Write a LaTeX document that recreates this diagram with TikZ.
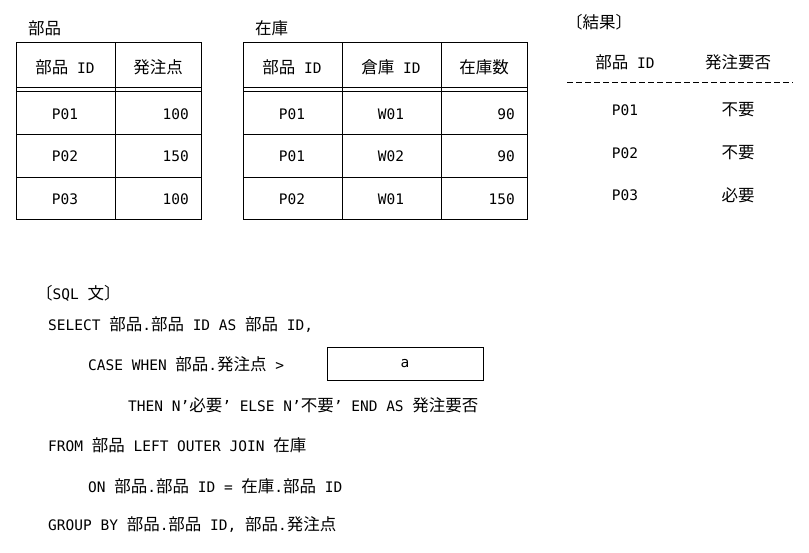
\documentclass[tikz,border=0pt]{standalone}
\usepackage{fontspec}
\setmainfont{DejaVu Sans Mono}
\newfontfamily\cjk{Noto Sans CJK JP}
\newcommand{\J}[1]{{\cjk\fontsize{16.5}{18}\selectfont #1}}
\begin{document}
\begin{tikzpicture}[x=1pt,y=-1pt,font=\fontsize{14.5}{17}\selectfont,
  t/.style={inner sep=0pt,anchor=west},
  c/.style={inner sep=0pt},
  r/.style={inner sep=0pt,anchor=east},
  tb/.style={line width=1pt}]
\useasboundingbox (0,0) rectangle (809,552);
% table 1
\node[t] (t1) at (28,28) {\J{部品}};
\draw[tb] (16,42) rectangle (201,219);
\draw[tb] (115,42) -- (115,219);
\draw[tb] (16,87) -- (201,87); \draw[tb] (16,91) -- (201,91);
\draw[tb] (16,134) -- (201,134); \draw[tb] (16,177) -- (201,177);
\node[c] (h11) at (65,67) {\J{部品} ID};
\node[c] (h12) at (158,67) {\J{発注点}};
\node[c] (a1) at (65,114) {P01}; \node[r] (b1) at (189,114) {100};
\node[c] (a2) at (65,156) {P02}; \node[r] (b2) at (189,156) {150};
\node[c] (a3) at (65,199) {P03}; \node[r] (b3) at (189,199) {100};
% table 2
\node[t] (t2) at (255,28) {\J{在庫}};
\draw[tb] (243,42) rectangle (527,219);
\draw[tb] (342,42) -- (342,219); \draw[tb] (441,42) -- (441,219);
\draw[tb] (243,87) -- (527,87); \draw[tb] (243,91) -- (527,91);
\draw[tb] (243,134) -- (527,134); \draw[tb] (243,177) -- (527,177);
\node[c] (h21) at (292,67) {\J{部品} ID};
\node[c] (h22) at (391,67) {\J{倉庫} ID};
\node[c] (h23) at (484,67) {\J{在庫数}};
\node[c] (c1) at (292,114) {P01}; \node[c] (d1) at (391,114) {W01}; \node[r] (e1) at (515,114) {90};
\node[c] (c2) at (292,156) {P01}; \node[c] (d2) at (391,156) {W02}; \node[r] (e2) at (515,156) {90};
\node[c] (c3) at (292,199) {P02}; \node[c] (d3) at (391,199) {W01}; \node[r] (e3) at (515,199) {150};
% result
\node[t] (t3) at (566,22) {\J{〔結果〕}};
\node[c] (h31) at (625,62) {\J{部品} ID};
\node[c] (h32) at (738,62) {\J{発注要否}};
\draw[line width=1pt,dash pattern=on 6pt off 3pt] (567,82) -- (793,82);
\node[c] (f1) at (625,110) {P01}; \node[c] (g1) at (738,110) {\J{不要}};
\node[c] (f2) at (625,153) {P02}; \node[c] (g2) at (738,153) {\J{不要}};
\node[c] (f3) at (625,195) {P03}; \node[c] (g3) at (738,195) {\J{必要}};
% SQL
\node[t] (s0) at (36,293) {\J{〔}SQL \J{文〕}};
\node[t] (s1) at (48,325) {SELECT \J{部品}.\J{部品} ID AS \J{部品} ID,};
\node[t] (s2) at (88,364) {CASE WHEN \J{部品}.\J{発注点} >};
\draw[tb] (327,347) rectangle (483,380);
\node[c] (a) at (405,364) {a};
\node[t] (s3) at (128,405) {THEN N'\J{必要}' ELSE N'\J{不要}' END AS \J{発注要否}};
\node[t] (s4) at (48,445) {FROM \J{部品} LEFT OUTER JOIN \J{在庫}};
\node[t] (s5) at (88,486) {ON \J{部品}.\J{部品} ID = \J{在庫}.\J{部品} ID};
\node[t] (s6) at (48,525) {GROUP BY \J{部品}.\J{部品} ID, \J{部品}.\J{発注点}};
\end{tikzpicture}
\end{document}
